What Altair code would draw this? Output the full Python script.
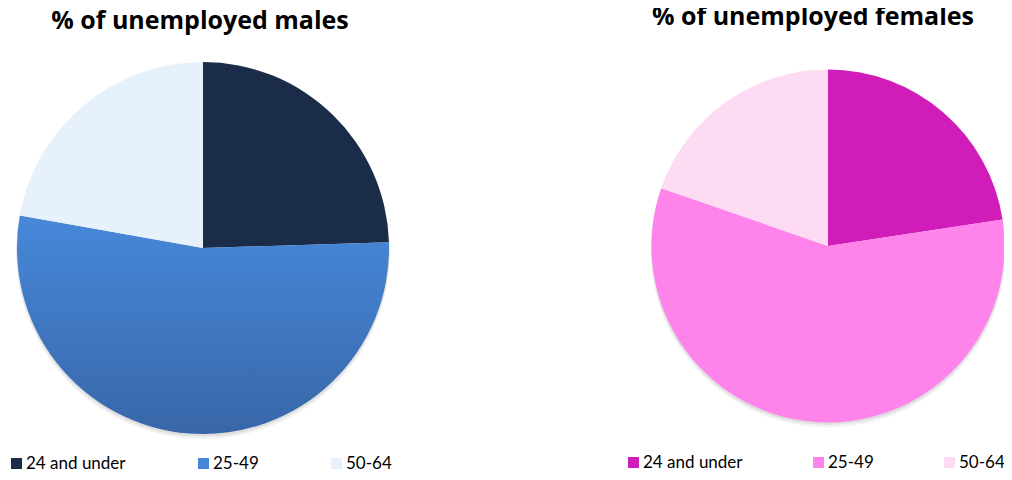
import altair as alt
import pandas as pd

categories = ["24 and under", "25-49", "50-64"]
male_values = [24.5, 53.3, 22.2]
female_values = [22.6, 57.7, 19.7]
male_title = "% of unemployed males"
female_title = "% of unemployed females"

male_colors = ["#1b2c48", "#4686d8", "#e7f1fc"]
female_colors = ["#d01db9", "#fe84ec", "#fddcf3"]

males = pd.DataFrame({"category": categories, "value": male_values, "idx": [0, 1, 2]})
females = pd.DataFrame({"category": categories, "value": female_values, "idx": [0, 1, 2]})

FONT = "Lato"
TITLE_FONT = "Open Sans"

blue_gradient = {
    "gradient": "linear",
    "x1": 0, "y1": 0, "x2": 0, "y2": 1,
    "stops": [
        {"offset": 0, "color": "#4788da"},
        {"offset": 1, "color": "#3867a8"},
    ],
}


def legend(x, y, pad):
    return alt.Legend(
        orient="none", legendX=x, legendY=y, direction="horizontal", columns=3,
        title=None, symbolType="square", symbolSize=121, symbolStrokeWidth=0,
        labelFont=FONT, labelFontSize=17, labelColor="#000000", labelOffset=1,
        columnPadding=pad, gridAlign="none",
    )


def shadow(cx, cy, r):
    base = alt.Chart(alt.Data(values=[{"a": 1}]))
    return alt.layer(
        base.mark_arc(theta=0, theta2=6.2832, radius=r + 1, fill="#000000", fillOpacity=0.05).encode(
            x=alt.value(cx), y=alt.value(cy + 4)),
        base.mark_arc(theta=0, theta2=6.2832, radius=r + 0.5, fill="#000000", fillOpacity=0.08).encode(
            x=alt.value(cx), y=alt.value(cy + 2)),
    )


MX, MY, MR = 195, 240, 186
FX, FY, FR = 820, 238, 176.5

male_pie = alt.Chart(males).mark_arc(radius=MR).encode(
    theta=alt.Theta("value:Q", stack=True, scale=alt.Scale(domain=[0, 100])),
    order=alt.Order("idx:O"),
    color=alt.condition(
        alt.datum.category == "25-49",
        alt.value(blue_gradient),
        alt.Color("category:N", scale=alt.Scale(domain=categories, range=male_colors),
                  legend=legend(0, 447, 69)),
    ),
    x=alt.value(MX), y=alt.value(MY),
)

female_pie = alt.Chart(females).mark_arc(radius=FR).encode(
    theta=alt.Theta("value:Q", stack=True, scale=alt.Scale(domain=[0, 100])),
    order=alt.Order("idx:O"),
    color=alt.Color("category:N", scale=alt.Scale(domain=categories, range=female_colors),
                    legend=legend(617, 446, 67)),
    x=alt.value(FX), y=alt.value(FY),
)

text_base = alt.Chart(alt.Data(values=[{"a": 1}]))
male_text = text_base.mark_text(font=TITLE_FONT, fontWeight="bold", fontSize=25, align="center",
                                baseline="alphabetic", color="#000000").encode(
    x=alt.value(192), y=alt.value(21), text=alt.value(male_title))
female_text = text_base.mark_text(font=TITLE_FONT, fontWeight="bold", fontSize=25, align="center",
                                  baseline="alphabetic", color="#000000").encode(
    x=alt.value(805), y=alt.value(17), text=alt.value(female_title))

chart = alt.layer(
    shadow(MX, MY, MR),
    shadow(FX, FY, FR),
    male_pie,
    female_pie,
    male_text,
    female_text,
).resolve_scale(color="independent", theta="independent").properties(
    width=996, height=464, padding=0,
    autosize=alt.AutoSizeParams(type="none"),
).configure_view(stroke=None)

chart.save("out.html", embed_options={"renderer": "svg", "actions": False})
